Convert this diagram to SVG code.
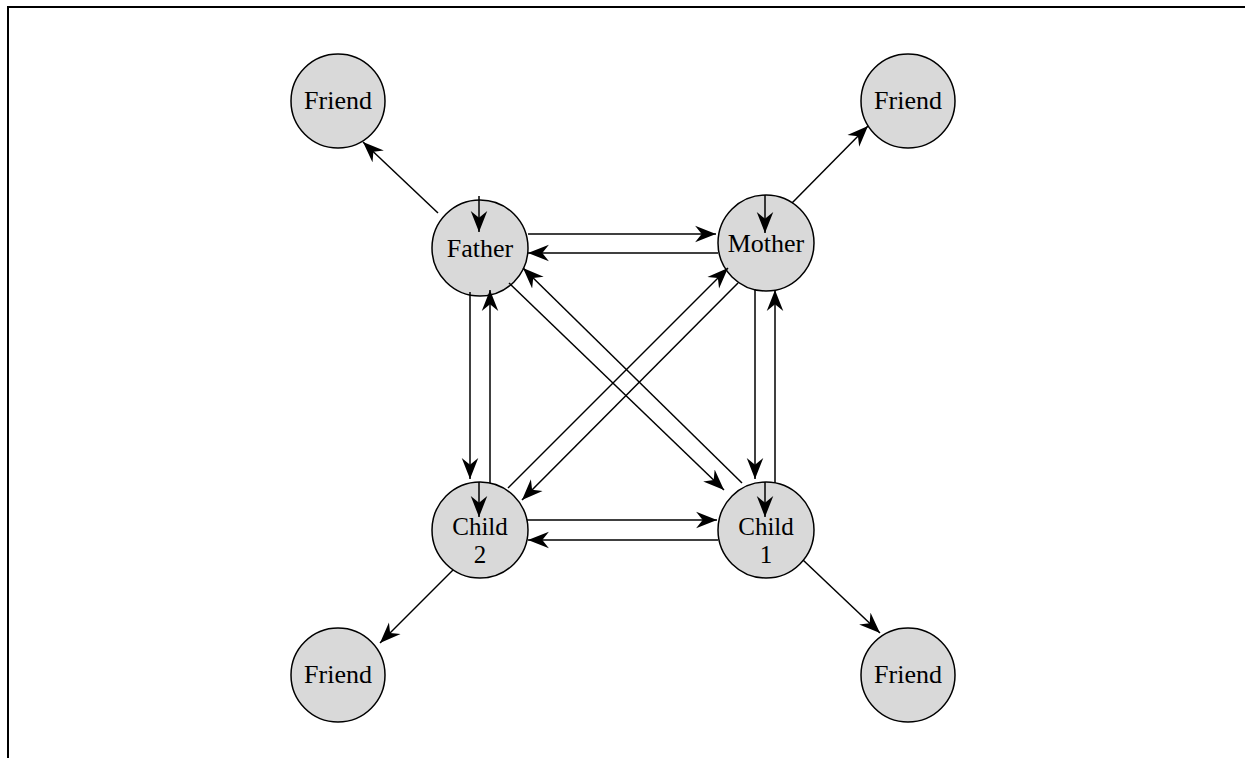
<svg xmlns="http://www.w3.org/2000/svg" width="1245" height="758" viewBox="0 0 1245 758">
<style>
.node{fill:#d9d9d9;stroke:#000;stroke-width:1.5}
.lbl{font-family:"Liberation Serif","Times New Roman",serif;font-size:26px;text-anchor:middle;fill:#000}
.sm{font-size:25px}
.e{stroke:#000;stroke-width:1.5;fill:none;marker-end:url(#ah)}
</style>
<defs>
<marker id="ah" markerUnits="userSpaceOnUse" markerWidth="22" markerHeight="18" viewBox="-19 -8 20 16" refX="0" refY="0" orient="auto">
<path d="M0,0 L-19,-7.5 L-13,0 L-19,7.5 Z" fill="#000"/>
</marker>
</defs>
<rect width="1245" height="758" fill="#fff"/>
<path d="M8,758 V7 H1245" fill="none" stroke="#000" stroke-width="2"/>
<g id="friend-tl"><circle class="node" cx="338" cy="101" r="47"/><text class="lbl" x="338" y="109">Friend</text></g>
<g id="friend-tr"><circle class="node" cx="908" cy="101" r="47"/><text class="lbl" x="908" y="109">Friend</text></g>
<g id="friend-bl"><circle class="node" cx="338" cy="675" r="47"/><text class="lbl" x="338" y="683">Friend</text></g>
<g id="friend-br"><circle class="node" cx="908" cy="675" r="47"/><text class="lbl" x="908" y="683">Friend</text></g>
<g id="father"><circle class="node" cx="480" cy="248" r="48"/><text class="lbl" x="480" y="257">Father</text></g>
<g id="mother"><circle class="node" cx="766" cy="243" r="48"/><text class="lbl" x="766" y="252">Mother</text></g>
<g id="child2"><circle class="node" cx="480" cy="530" r="48"/><text class="lbl sm" x="480" y="535">Child<tspan x="480" dy="28">2</tspan></text></g>
<g id="child1"><circle class="node" cx="766" cy="530" r="48"/><text class="lbl sm" x="766" y="535">Child<tspan x="766" dy="28">1</tspan></text></g>
<g id="connectors">
<line class="e" x1="479" y1="196" x2="479" y2="232"/>
<line class="e" x1="765" y1="195" x2="765" y2="233"/>
<line class="e" x1="479" y1="482" x2="479" y2="517"/>
<line class="e" x1="765" y1="482" x2="765" y2="517"/>
<line class="e" x1="528" y1="234" x2="716" y2="234"/>
<line class="e" x1="718" y1="253" x2="528" y2="253"/>
<line class="e" x1="470" y1="292" x2="470" y2="479"/>
<line class="e" x1="490" y1="483" x2="490" y2="290"/>
<line class="e" x1="755" y1="289" x2="755" y2="479"/>
<line class="e" x1="775" y1="483" x2="775" y2="290"/>
<line class="e" x1="527" y1="520" x2="717" y2="520"/>
<line class="e" x1="718" y1="540" x2="528" y2="540"/>
<line class="e" x1="509" y1="283" x2="724" y2="490"/>
<line class="e" x1="742" y1="483" x2="523" y2="268"/>
<line class="e" x1="508" y1="488" x2="728" y2="268"/>
<line class="e" x1="738" y1="283" x2="522" y2="500"/>
<line class="e" x1="438" y1="213" x2="363" y2="142"/>
<line class="e" x1="792" y1="203" x2="868" y2="126"/>
<line class="e" x1="453" y1="570" x2="380" y2="643"/>
<line class="e" x1="803" y1="560" x2="880" y2="633"/>
</g>
</svg>
